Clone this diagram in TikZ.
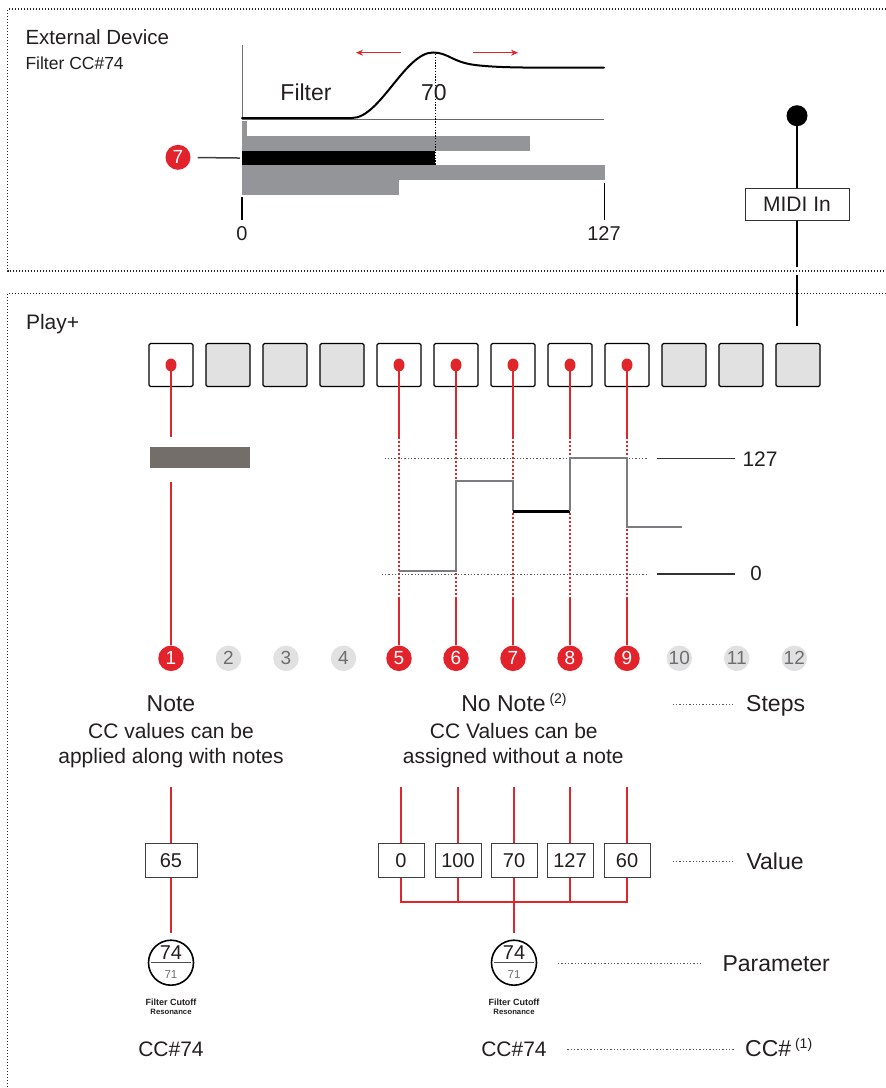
\documentclass[tikz,border=0pt]{standalone}
\usepackage{fontspec}
\setmainfont{Liberation Sans}
\usetikzlibrary{shapes.geometric,arrows.meta}
\definecolor{myred}{HTML}{E3232B}
\definecolor{lred}{HTML}{E0262B}
\definecolor{bargray}{HTML}{939598}
\definecolor{boxgray}{HTML}{E1E1E1}
\definecolor{darkbar}{HTML}{746E6B}
\definecolor{ink}{HTML}{231F20}
\definecolor{numgray}{HTML}{6D6E71}
\definecolor{linegray}{HTML}{7A7C7F}
\newcommand{\fsz}[1]{\fontsize{#1}{#1}\selectfont}
\begin{document}
\begin{tikzpicture}[x=1pt,y=-1pt,
  every node/.style={text=ink},
  frame/.style={draw=black!85, line width=1.3pt, dash pattern=on 1.4pt off 1.6pt},
  stepon/.style={draw=black, line width=1.3pt, fill=white, minimum width=44pt, minimum height=43pt, rounded corners=1.5pt, inner sep=0pt},
  stepoff/.style={stepon, fill=boxgray},
  reddot/.style={ellipse, fill=lred, minimum width=11pt, minimum height=13pt, inner sep=0pt},
  redline/.style={draw=lred, line width=2pt},
  reddots/.style={draw=lred, line width=1.5pt, dash pattern=on 2pt off 2pt},
  numon/.style={circle, fill=myred, text=white, minimum size=25.5pt, inner sep=0pt, font=\fsz{19}},
  numoff/.style={circle, fill=boxgray, text=numgray, minimum size=25.5pt, inner sep=0pt, font=\fsz{19}},
  valbox/.style={draw=black!75, line width=1pt, fill=white, minimum width=46pt, minimum height=34pt, inner sep=0pt, font=\fsz{20}},
  guide/.style={draw=black!65, line width=1pt, dash pattern=on 1.3pt off 2pt},
  lbl/.style={anchor=base west, font=\fsz{23}},
  txt/.style={anchor=base, font=\fsz{21}},
  param/.style={circle, draw=black, line width=1.6pt, minimum size=45pt, inner sep=0pt},
  midline/.style={draw=black, line width=1.5pt},
]
\useasboundingbox (0,0) rectangle (886,1088);

% frames
\draw[frame] (886,9) -- (7.5,9) -- (7.5,271) -- (886,271);
\draw[frame] (886,293.5) -- (7.5,293.5) -- (7.5,1088);

% ---------- External device ----------
\node[anchor=base west, font=\fsz{20.5}] (ext) at (22,44) {External Device};
\node[anchor=base west, font=\fsz{17.5}] (extcc) at (22,69.5) {Filter CC\#74};

\draw[black!55, line width=0.7pt] (242,45) -- (242,119);
\draw[black!60, line width=1.2pt] (242,119.5) -- (604,119.5);
\fill[bargray] (242,120.5) rectangle (247,136);
\fill[bargray] (242,136) rectangle (530,150.7);
\node[fill=black, minimum width=193pt, minimum height=14.3pt, inner sep=0pt, anchor=north west] (bar7) at (242,150.7) {};
\fill[bargray] (242,165) rectangle (604.5,180);
\fill[bargray] (242,180) rectangle (399,195);

\draw[line width=2pt, line cap=round] (242,118) -- (352,118)
  .. controls (380,118) and (405,52.5) .. (433,52.5)
  .. controls (448,52.5) and (452,62) .. (475,65)
  .. controls (500,68) and (530,67.7) .. (604,67.7);
\draw[black, line width=0.9pt, dash pattern=on 1.3pt off 1.5pt] (435,54) -- (435,165);
\node[anchor=base, font=\fsz{23}] (filt) at (306,100.7) {Filter};
\node[anchor=base, font=\fsz{23}] (seventy) at (434,100.7) {70};
\draw[myred, line width=1.3pt, -{Stealth[length=7pt,width=6pt]}] (401,52.7) -- (356,52.7);
\draw[myred, line width=1.3pt, -{Stealth[length=7pt,width=6pt]}] (473,52.7) -- (518,52.7);

\node[numon, minimum size=25pt] (seven) at (178,157.3) {7};
\draw[black!75, line width=1.5pt, shorten <=7pt, shorten >=2pt] (seven) -- (bar7.west);

\draw[line width=1.2pt] (242,196.7) -- (242,220);
\draw[line width=1.2pt] (604.5,183) -- (604.5,220);
\node[anchor=base, font=\fsz{20}] (zero) at (242,240.7) {0};
\node[anchor=base, font=\fsz{20}] (max) at (604,240.7) {127};

% MIDI In
\node[circle, fill=black, minimum size=21pt, inner sep=0pt] (mdot) at (797,115.7) {};
\node[draw=black!80, line width=1pt, fill=white, minimum width=104pt, minimum height=31.7pt, inner sep=0pt, font=\fsz{21}] (midi) at (797,204.2) {MIDI In};
\coordinate (mA) at (797,266.7);
\coordinate (mB) at (797,275);
\coordinate (mC) at (797,326);
\draw[midline] (mdot) -- (midi);
\draw[midline] (midi) -- (mA);
\draw[midline] (mB) -- (mC);

% ---------- Play+ ----------
\node[anchor=base west, font=\fsz{21}] (play) at (22.5,329) {Play+};

\foreach \i/\st in {1/on,2/off,3/off,4/off,5/on,6/on,7/on,8/on,9/on,10/off,11/off,12/off} {
  \node[step\st] (s\i) at ({171+57*(\i-1)},365) {};
}
\foreach \i/\xx/\st in {1/171/on,2/228.5/off,3/286/off,4/343.5/off,5/399/on,6/456/on,7/513/on,8/570/on,9/627/on,10/679.3/off,11/736.7/off,12/794.3/off} {
  \node[num\st] (n\i) at (\xx,658.3) {\i};
}

\coordinate (ya) at (0,437);
\coordinate (yb) at (0,597);
\coordinate (ybar) at (0,481.7);
\foreach \i in {1,5,6,7,8,9} {
  \node[reddot] (d\i) at (s\i.center) {};
  \draw[redline] (d\i.center) -- (d\i.center |- ya);
}
\foreach \i in {5,6,7,8,9} {
  \draw[reddots] (d\i.center |- ya) -- (d\i.center |- yb);
  \draw[redline] (n\i.north |- yb) -- (n\i.north);
}
\node[fill=darkbar, minimum width=100pt, minimum height=21pt, inner sep=0pt] (bar1) at (199.8,457.8) {};
\draw[redline] (n1.north |- ybar) -- (n1.north);

% value graph
\draw[guide] (384.5,458.3) -- (647,458.3);
\draw[guide] (381.7,574) -- (649,574);
\coordinate (gA) at (657,458.3);
\coordinate (gB) at (735,458.3);
\coordinate (gC) at (657,573.8);
\coordinate (gD) at (735,573.8);
\draw[black!80, line width=1.5pt] (gA) -- (gB);
\draw[black!80, line width=1.5pt] (gC) -- (gD);
\node[anchor=base west, font=\fsz{21}] (l127) at (739,466.7) {127};
\node[anchor=base, font=\fsz{20.5}] (l0) at (756,580.7) {0};

\draw[linegray, line width=2pt] (399,570.7) -- (456,570.7) -- (456,481) -- (513,481) -- (513,511);
\draw[black, line width=3pt] (513,511) -- (570,511);
\draw[linegray, line width=2pt] (570,511) -- (570,458.3) -- (627,458.3) -- (627,526.7) -- (681.7,526.7);

% texts
\node[anchor=base, font=\fsz{23}] (note) at (171,711.7) {Note};
\node[txt] (t1a) at (171,738) {CC values can be};
\node[txt] (t1b) at (171,763.3) {applied along with notes};
\node[anchor=base, font=\fsz{23}] (nonote) at (514,711.7) {No Note\,\raisebox{8pt}{\fsz{14}(2)}};
\node[txt] (t2a) at (513.8,738) {CC Values can be};
\node[txt] (t2b) at (513.3,763.3) {assigned without a note};
\draw[guide] (672.7,704) -- (733.3,704);
\node[lbl] (steps) at (742.7,711.7) {Steps};

% ---------- values ----------
\coordinate (yc) at (0,787);
\coordinate (yt) at (0,901.7);
\node[valbox, minimum width=52pt] (v1) at (171,860.3) {65};
\foreach \i/\xx/\v in {5/401/0,6/458/100,7/514/70,8/570/127,9/627/60} {
  \node[valbox] (v\i) at (\xx,860.3) {\v};
  \draw[redline] (v\i.north |- yc) -- (v\i.north);
}
\draw[redline] (v1.north |- yc) -- (v1.north);
\draw[redline] (v5.south) -- (v5.south |- yt) -- (v9.south |- yt) -- (v9.south);
\draw[redline] (v6.south) -- (v6.south |- yt);
\draw[redline] (v8.south) -- (v8.south |- yt);

\draw[guide] (672.7,861.7) -- (733.3,861.7);
\node[lbl] (value) at (743,869.3) {Value};

% parameter circles
\foreach \p/\xx in {p1/171,p2/514} {
  \node[param] (\p) at (\xx,962.7) {};
  \draw[black!70, line width=0.8pt] ([xshift=-20pt]\p.center) -- ([xshift=20pt]\p.center);
  \node[anchor=base, font=\fsz{20}] at (\xx,959.5) {74};
  \node[anchor=base, font=\fsz{11.5}, text=numgray] at (\xx,978.3) {71};
  \node[anchor=base, font=\bfseries\fsz{9}, inner sep=0pt] at (\xx,1005) {Filter Cutoff};
  \node[anchor=base, font=\bfseries\fsz{7.7}, inner sep=0pt] at (\xx,1014) {Resonance};
  \node[anchor=base, font=\fsz{21}] at (\xx,1056.6) {CC\#74};
}
\coordinate (p2top) at (514,933);
\coordinate (p1top) at (171,933);
\draw[redline] (v1.south) -- (p1top);
\draw[redline] (v7.south) -- (p2top);

\draw[guide] (558,963) -- (702,963);
\node[lbl] (parlbl) at (719,971.7) {Parameter};
\draw[guide] (567.3,1049) -- (734,1049);
\node[lbl] (cclbl) at (741.7,1056.7) {CC\#\,\raisebox{8pt}{\fsz{14}(1)}};
\end{tikzpicture}
\end{document}
